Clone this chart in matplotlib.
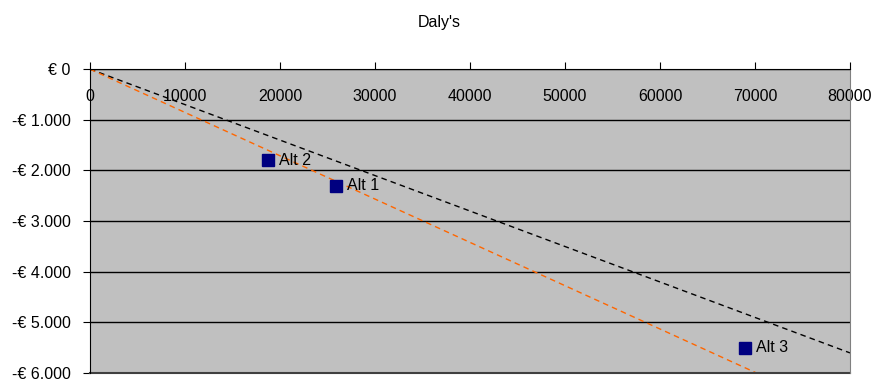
import matplotlib.pyplot as plt
from matplotlib.ticker import FuncFormatter

plt.rcParams['font.family'] = ['Liberation Sans', 'DejaVu Sans']

# data
alt_names = ['Alt 1', 'Alt 2', 'Alt 3']
alt_dalys = [25900, 18700, 68900]
alt_costs = [-2300, -1800, -5500]

# threshold lines through the origin
black_x = [0, 80000]
black_y = [0, -5600]
orange_x = [0, 70200]
orange_y = [0, -6000]

x_ticks = list(range(0, 80001, 10000))
y_ticks = list(range(0, -6001, -1000))


def euro(v, pos):
    if v == 0:
        return '€ 0'
    s = f'{abs(int(v)):,}'.replace(',', '.')
    return ('-' if v < 0 else '') + '€ ' + s


fig = plt.figure(figsize=(8.74, 3.8), dpi=100)
ax = fig.add_axes([0.103, 0.018, 0.8695, 0.8])
ax.set_facecolor('#C0C0C0')

ax.plot(black_x, black_y, color='black', lw=1, ls=(0, (4, 3)))
ax.plot(orange_x, orange_y, color='#FF6600', lw=1, ls=(0, (4, 3)))
ax.plot(alt_dalys, alt_costs, 's', color='#000080', markersize=8.5, ls='none', zorder=5)
for name, x, y in zip(alt_names, alt_dalys, alt_costs):
    ax.annotate(name, (x, y), xytext=(8, 0), textcoords='offset points',
                va='center', ha='left', fontsize=11.5)

ax.set_xlim(0, 80000)
ax.set_ylim(-6000, 0)
ax.set_xticks(x_ticks)
ax.set_yticks(y_ticks)
ax.yaxis.set_major_formatter(FuncFormatter(euro))
ax.grid(axis='y', color='black', lw=1)
ax.set_axisbelow(True)

ax.spines['bottom'].set_position(('data', 0))
ax.spines['top'].set_visible(False)
ax.spines['right'].set_color('#808080')
ax.axhline(-6000, color='#404040', lw=1.5, clip_on=False)
ax.tick_params(axis='x', direction='in', length=5, pad=14, labelsize=11.5)
ax.tick_params(axis='y', direction='out', length=5, pad=9, labelsize=11.5)

fig.text(0.503, 0.94, "Daly's", ha='center', va='center', fontsize=11.5)

fig.savefig('out.png', dpi=100)
